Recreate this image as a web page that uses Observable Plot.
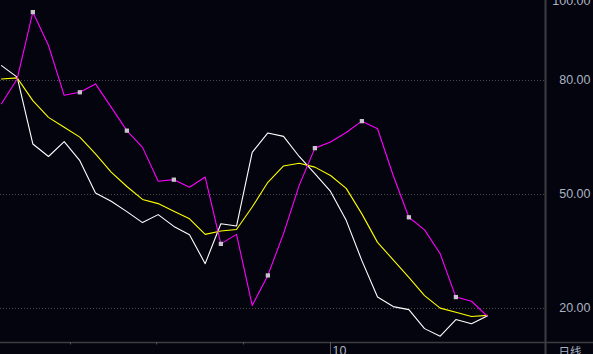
<!DOCTYPE html>
<html>
<head>
<meta charset="utf-8">
<script src="https://cdn.jsdelivr.net/npm/d3@7"></script>
<script src="https://cdn.jsdelivr.net/npm/@observablehq/plot@0.6"></script>
<style>
  html, body { margin: 0; padding: 0; background: #04040e; overflow: hidden; }
  #chart svg { display: block; }
</style>
</head>
<body>
<div id="chart"></div>
<script>
// ---- data ----
const kValues = [83.9, 80.9, 63.3, 60.0, 63.9, 58.9, 50.4, 48.2, 45.5, 42.6, 44.7, 41.6, 39.4, 31.8, 42.3, 41.7,
                 61.1, 66.2, 65.3, 60.0, 55.5, 50.8, 43.2, 32.6, 23.0, 20.5, 19.7, 14.7, 12.7, 17.1, 16.0, 18.0];
const dValues = [80.4, 80.7, 74.7, 70.3, 67.7, 65.1, 60.7, 55.9, 52.1, 48.7, 47.6, 45.6, 43.6, 39.5, 40.4, 40.8,
                 46.7, 53.2, 57.5, 58.2, 57.2, 55.0, 51.6, 44.9, 37.4, 32.8, 28.2, 23.4, 20.1, 19.0, 17.9, 18.2];
const jValues = [73.9, 80.4, 98.0, 89.2, 76.1, 76.9, 79.1, 73.0, 66.8, 62.4, 53.5, 53.9, 51.9, 54.6, 37.0, 39.5,
                 20.8, 28.7, 39.7, 52.4, 62.2, 63.8, 66.3, 69.3, 67.3, 55.0, 44.0, 40.7, 34.4, 23.0, 21.9, 18.0];
const jMarkers = [2, 5, 8, 11, 14, 17, 20, 23, 26, 29];
const gridValues = [20, 50, 80];
const yTickLabels = [20, 50, 80];
const topTickLabel = [100];
const xTickPositions = [4.4, 9.9, 15.45];
const monthTick = [21];
const monthLabel = ["10"];
const periodLabel = ["日线"];

// ---- scale settings ----
const xDomain = [-0.064, 34.72];
const yDomain = [11.05, 101.05];
const pxPerUnit = 342 / (yDomain[1] - yDomain[0]);

const idx = kValues.map((_, i) => i);
const series = (vals) => idx.map(i => ({i, v: vals[i]}));
const kData = series(kValues), dData = series(dValues), jData = series(jValues);
const markerData = jMarkers.map(i => ({i, v: jValues[i]}));

const labelColor = "#a9b3c2";
const lineColor = "#3c3c42";
const font = "'Liberation Sans', Arial, sans-serif";

const chart = Plot.plot({
  width: 593,
  height: 354,
  marginLeft: 0,
  marginRight: 48,
  marginTop: 0,
  marginBottom: 12,
  style: {background: "#04040e", fontFamily: font, overflow: "hidden"},
  x: {domain: xDomain, axis: null},
  y: {domain: yDomain, axis: null},
  marks: [
    Plot.ruleY(gridValues, {stroke: "#4c4c4c", strokeDasharray: "1,2", strokeWidth: 1}),
    // frame: bottom axis line across the whole width, right vertical separator
    Plot.ruleY([yDomain[0]], {x1: xDomain[0] - 1, x2: xDomain[1] + 4, stroke: lineColor, strokeWidth: 1.5}),
    Plot.ruleX([xDomain[1]], {y1: yDomain[1] + 1, y2: yDomain[0] - 14 / pxPerUnit, stroke: lineColor, strokeWidth: 2}),
    // x ticks
    Plot.ruleX(xTickPositions, {y1: yDomain[0], y2: yDomain[0] - 2.5 / pxPerUnit, stroke: "#555", strokeWidth: 1}),
    Plot.ruleX(monthTick, {y1: yDomain[0], y2: yDomain[0] - 14 / pxPerUnit, stroke: "#555", strokeWidth: 1}),
    Plot.text(monthTick, {x: d => d, frameAnchor: "bottom", text: monthLabel, lineAnchor: "top", textAnchor: "start",
      dx: 2, dy: 4, fill: labelColor, fontSize: 12.5}),
    Plot.text(periodLabel, {frameAnchor: "bottom-right", text: d => d, lineAnchor: "top", textAnchor: "start",
      dx: 13, dy: 5, fill: labelColor, fontSize: 11.5, fontFamily: "'Noto Sans CJK SC', sans-serif"}),
    // y labels on the right
    Plot.text(yTickLabels, {x: xDomain[1], y: d => d, text: d => d.toFixed(2), textAnchor: "end", dx: 45,
      fill: labelColor, fontSize: 12.5}),
    Plot.text(topTickLabel, {x: xDomain[1], y: d => d, text: d => d.toFixed(2), textAnchor: "end", dx: 45, dy: -3,
      fill: labelColor, fontSize: 12.5}),
    // lines
    Plot.line(kData, {x: "i", y: "v", stroke: "#ffffff", strokeWidth: 1.1}),
    Plot.line(dData, {x: "i", y: "v", stroke: "#ffff00", strokeWidth: 1.1}),
    Plot.line(jData, {x: "i", y: "v", stroke: "#ff00ff", strokeWidth: 1.1}),
    Plot.dot(markerData, {x: "i", y: "v", symbol: "square", r: 2.4, fill: "#c8c4cc", stroke: "none"})
  ]
});
document.getElementById("chart").appendChild(chart);
</script>
</body>
</html>
